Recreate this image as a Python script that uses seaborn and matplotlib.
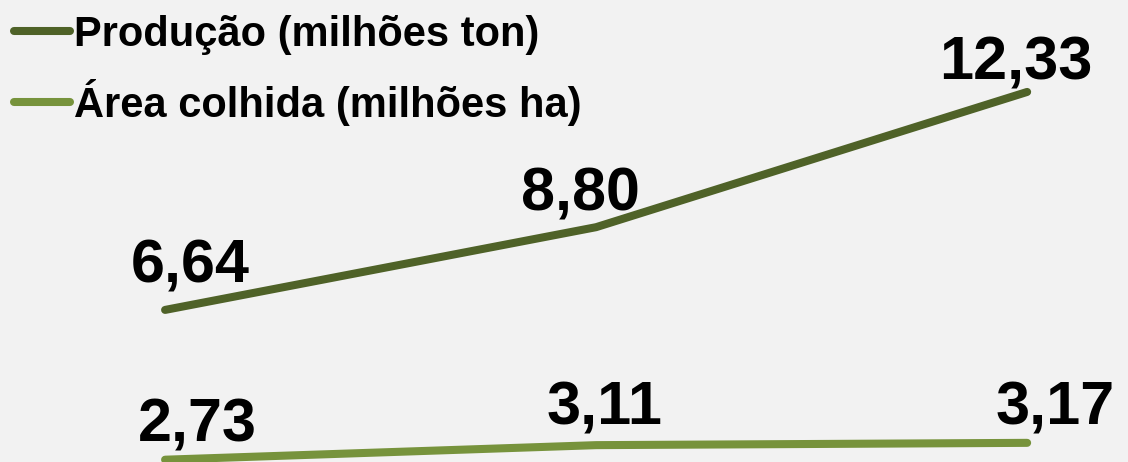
import pandas as pd
import seaborn as sns
import matplotlib.pyplot as plt

# values
periods = ["P1", "P2", "P3"]
producao = [6.64, 8.80, 12.33]
area = [2.73, 3.11, 3.17]
series_names = ["Produção (milhões ton)", "Área colhida (milhões ha)"]
colors = ["#4f6228", "#77933c"]

df = pd.DataFrame({
    "x": list(range(len(periods))) * 2,
    "valor": producao + area,
    "serie": [series_names[0]] * 3 + [series_names[1]] * 3,
})

sns.set_style("white")
plt.rcParams["font.family"] = ["Liberation Sans", "DejaVu Sans"]

fig = plt.figure(figsize=(11.28, 4.62), dpi=100, facecolor="#f2f2f2")
ax = fig.add_axes([0, 0, 1, 1])
ax.set_facecolor("#f2f2f2")

sns.lineplot(data=df, x="x", y="valor", hue="serie", palette=colors,
             linewidth=5.8, ax=ax)
for line in ax.lines:
    line.set_solid_capstyle("round")
    line.set_clip_on(False)

ax.set_xlim(-0.383, 2.234)
ax.set_ylim(2.67, 14.73)
ax.axis("off")

# label offsets in points (dx, dy) relative to each point
offs_prod = [(18, 20), (-11, 12), (-8, 9)]
offs_area = [(23, 13), (6, 15), (20, 13)]
for i, v in enumerate(producao):
    ax.annotate(f"{v:.2f}".replace(".", ","), (i, v), xytext=offs_prod[i],
                textcoords="offset points", ha="center", va="baseline",
                fontsize=44, fontweight="bold", color="black")
for i, v in enumerate(area):
    ax.annotate(f"{v:.2f}".replace(".", ","), (i, v), xytext=offs_area[i],
                textcoords="offset points", ha="center", va="baseline",
                fontsize=44, fontweight="bold", color="black")

leg = ax.legend(loc="upper left", bbox_to_anchor=(-0.006, 1.013), frameon=False,
                fontsize=30, handlelength=1.35, handletextpad=0.1,
                labelspacing=0.58, borderaxespad=0.3, borderpad=0.2)
for t in leg.get_texts():
    t.set_fontweight("bold")
    t.set_color("black")
for h in leg.get_lines():
    h.set_linewidth(5.8)
    h.set_solid_capstyle("round")

fig.savefig("out.png", dpi=100, facecolor=fig.get_facecolor())
